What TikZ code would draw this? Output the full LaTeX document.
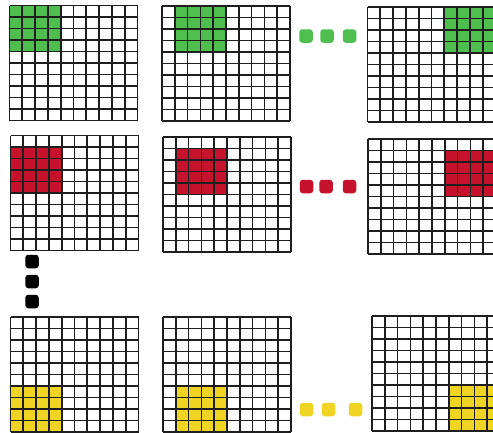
\documentclass[tikz,border=0pt]{standalone}
\definecolor{cgreen}{RGB}{78,190,78}
\definecolor{cred}{RGB}{198,18,44}
\definecolor{cyellow}{RGB}{240,212,36}
\definecolor{cline}{RGB}{30,30,30}
\tikzset{
  gridline/.style={draw=cline,line width=1.7pt},
  dotbox/.style={rectangle,rounded corners=3pt,minimum width=13.5pt,minimum height=13.5pt,inner sep=0pt},
}
% #1 x, #2 y (top-left), #3 first highlighted column, #4 first highlighted row, #5 colour
\newcommand\cellgrid[5]{%
  \begin{scope}[shift={(#1,#2)}]
    \fill[#5] ({#3*12.8},{#4*11.5}) rectangle ({(#3+4)*12.8},{(#4+4)*11.5});
    \foreach \i in {0,...,10} \draw[gridline] ({\i*12.8},0) -- ({\i*12.8},115);
    \foreach \j in {0,...,10} \draw[gridline] (0,{\j*11.5}) -- (128,{\j*11.5});
  \end{scope}}
\begin{document}
\begin{tikzpicture}[x=1pt,y=-1pt]
\useasboundingbox (0,0) rectangle (493,432);
\fill[white] (0,0) rectangle (493,432);
\clip (0,0) rectangle (493,432);
% row 1
\cellgrid{9.5}{5.5}{0}{0}{cgreen}
\cellgrid{162}{6}{1}{0}{cgreen}
\cellgrid{367.5}{7}{6}{0}{cgreen}
% row 2
\cellgrid{10.5}{135.5}{0}{1}{cred}
\cellgrid{163}{137}{1}{1}{cred}
\cellgrid{368}{139}{6}{1}{cred}
% row 3
\cellgrid{10.5}{317}{0}{6}{cyellow}
\cellgrid{163}{317}{1}{6}{cyellow}
\cellgrid{372}{316}{6}{6}{cyellow}
% dots
\node[dotbox,fill=cgreen] (g1) at (306,36) {};
\node[dotbox,fill=cgreen] (g2) at (327,36) {};
\node[dotbox,fill=cgreen] (g3) at (349.5,36) {};
\node[dotbox,fill=cred] (r1) at (306.5,186.5) {};
\node[dotbox,fill=cred] (r2) at (326,186.5) {};
\node[dotbox,fill=cred] (r3) at (349.5,186.5) {};
\node[dotbox,fill=cyellow] (y1) at (306.5,409.5) {};
\node[dotbox,fill=cyellow] (y2) at (328.5,409.5) {};
\node[dotbox,fill=cyellow] (y3) at (355.5,409.5) {};
\node[dotbox,fill=black] (b1) at (32,261.5) {};
\node[dotbox,fill=black] (b2) at (32,281.5) {};
\node[dotbox,fill=black] (b3) at (32,301.5) {};
\end{tikzpicture}
\end{document}
